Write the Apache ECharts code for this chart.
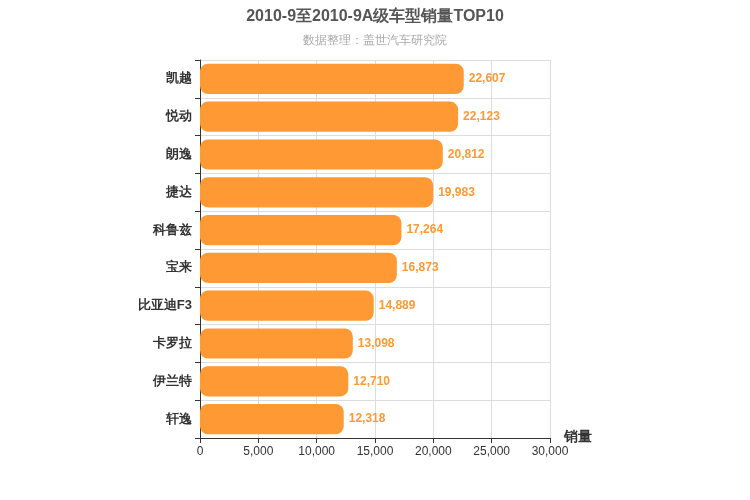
<!DOCTYPE html>
<html><head><meta charset="utf-8">
<script src="https://cdn.jsdelivr.net/npm/echarts@6/dist/echarts.min.js"></script>
<style>html,body{margin:0;padding:0;background:#fff}#c{width:750px;height:500px}</style>
</head><body><div id="c"></div>
<script>
const categories = ['凯越','悦动','朗逸','捷达','科鲁兹','宝来','比亚迪F3','卡罗拉','伊兰特','轩逸'];
const sales = [22607,22123,20812,19983,17264,16873,14889,13098,12710,12318];
const xTicks = [0,5000,10000,15000,20000,25000,30000];
const chart = echarts.init(document.getElementById('c'));
chart.setOption({
  animation:false,
  title:{text:'2010-9至2010-9A级车型销量TOP10',subtext:'数据整理：盖世汽车研究院',left:'center',top:4,
    textStyle:{fontSize:16,fontWeight:'bold',color:'#555',fontFamily:'Arial'},
    subtextStyle:{fontSize:12,color:'#aaa'},itemGap:10},
  grid:{left:200,right:200,top:60,bottom:62},
  xAxis:{type:'value',min:0,max:xTicks[xTicks.length-1],interval:5000,name:'销量',
    nameLocation:'end',nameGap:14,nameTextStyle:{fontSize:14,fontWeight:'bold',color:'#333',verticalAlign:'top',padding:[-8,0,0,0]},
    axisLine:{show:true,lineStyle:{color:'#333'}},axisTick:{show:true},
    axisLabel:{color:'#333',fontSize:12,formatter:v=>v.toLocaleString('en-US')},
    splitLine:{lineStyle:{color:'#ddd'}}},
  yAxis:{type:'category',inverse:true,data:categories,
    axisLine:{lineStyle:{color:'#333'}},axisTick:{show:true},
    axisLabel:{color:'#333',fontSize:13,fontWeight:'bold'},
    splitLine:{show:true,lineStyle:{color:'#ddd'}}},
  series:[{type:'bar',data:sales,barWidth:'80%',
    itemStyle:{color:'#FF9933',borderRadius:8},
    label:{show:true,position:'right',color:'#FF9933',fontWeight:'bold',fontSize:12,
      formatter:p=>p.value.toLocaleString('en-US')}}]
});
</script></body></html>
